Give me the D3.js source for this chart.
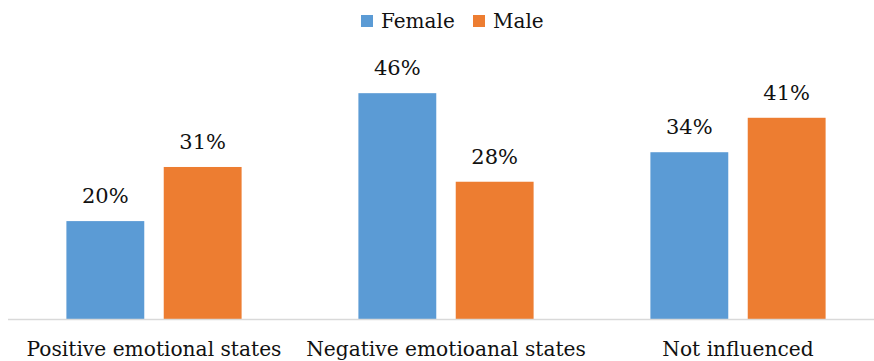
<!DOCTYPE html>
<html><head><meta charset="utf-8">
<script src="https://cdn.jsdelivr.net/npm/d3@7"></script>
<style>body{margin:0;background:#fff}svg{display:block}</style>
</head><body>
<script>
const categories = ["Positive emotional states", "Negative emotioanal states", "Not influenced"];
const seriesNames = ["Female", "Male"];
const female = [0.20, 0.46, 0.34];
const male = [0.31, 0.28, 0.41];
const colors = ["#5B9BD5", "#ED7D31"];

const W = 874, H = 361;
const FONT = "'DejaVu Serif', serif";
const svg = d3.select("body").append("svg").attr("width", W).attr("height", H);

const x0 = d3.scaleBand().domain(categories).range([8, 884]).paddingInner(0.4).paddingOuter(0.2);
const x1 = d3.scaleBand().domain(seriesNames).range([0, x0.bandwidth()]).paddingInner(0.2).paddingOuter(0);
const y = d3.scaleLinear().domain([0, 0.5]).range([319.5, 73.5]);

const data = categories.map((c, i) => ({cat: c, vals: [female[i], male[i]]}));
const fmt = d3.format(".0%");

const g = svg.selectAll("g.cat").data(data).join("g").attr("class", "cat")
  .attr("transform", d => `translate(${x0(d.cat)},0)`);
g.selectAll("rect").data(d => d.vals.map((v, j) => ({s: seriesNames[j], v, j})))
  .join("rect")
  .attr("x", d => x1(d.s)).attr("width", x1.bandwidth())
  .attr("y", d => y(d.v)).attr("height", d => y(0) - y(d.v))
  .attr("fill", d => colors[d.j]);
g.selectAll("text.lbl").data(d => d.vals.map((v, j) => ({s: seriesNames[j], v, j})))
  .join("text").attr("class", "lbl")
  .attr("x", d => x1(d.s) + x1.bandwidth() / 2)
  .attr("y", d => y(d.v) - 18)
  .attr("text-anchor", "middle")
  .attr("font-family", FONT).attr("font-size", 21).attr("fill", "#111")
  .text(d => fmt(d.v));

// axis
const axis = d3.axisBottom(x0).tickSize(0).tickPadding(22);
const ax = svg.append("g").attr("transform", `translate(0,${y(0)})`).call(axis);
ax.select(".domain").attr("stroke", "#D9D9D9").attr("stroke-width", 1.5).attr("d", "M8,0H874");
ax.selectAll("text").attr("font-family", FONT).attr("font-size", 20.2).attr("fill", "#111").attr("dy", "0.71em");

// legend
const leg = svg.append("g");
const legX = [361, 473];
seriesNames.forEach((s, i) => {
  leg.append("rect").attr("x", legX[i]).attr("y", 15).attr("width", 12).attr("height", 12).attr("fill", colors[i]);
  leg.append("text").attr("x", legX[i] + 20).attr("y", 28)
    .attr("font-family", FONT).attr("font-size", 20).attr("fill", "#111").text(s);
});
</script>
</body></html>
